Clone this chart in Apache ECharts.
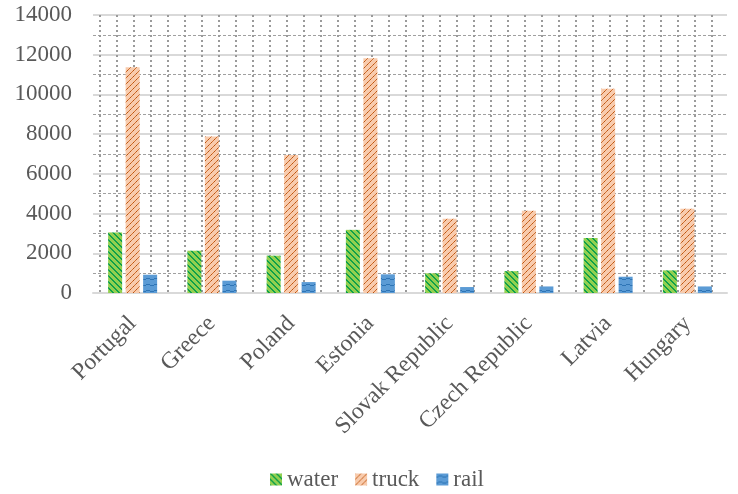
<!DOCTYPE html>
<html>
<head>
<meta charset="utf-8">
<script src="https://cdn.jsdelivr.net/npm/echarts@6/dist/echarts.min.js"></script>
<style>
html,body{margin:0;padding:0;background:#fff;}
#chart{width:738px;height:494px;}
</style>
</head>
<body>
<div id="chart"></div>
<script>
// Freight by mode for each country
const countries = ['Portugal', 'Greece', 'Poland', 'Estonia', 'Slovak Republic', 'Czech Republic', 'Latvia', 'Hungary'];
const water = [3050, 2130, 1880, 3180, 990, 1100, 2770, 1140];
const truck = [11370, 7880, 6950, 11820, 3740, 4140, 10280, 4240];
const rail = [920, 620, 550, 940, 300, 330, 820, 330];
const yTicks = [0, 2000, 4000, 6000, 8000, 10000, 12000, 14000];

const FONT = '"Liberation Serif", "Times New Roman", serif';
const TEXT = '#595959';

// Hatched fills built on small canvases
function makePattern(kind) {
  const c = document.createElement('canvas');
  const ctx = c.getContext('2d');
  if (kind === 'water') {
    c.width = 6; c.height = 6;
    ctx.fillStyle = '#92D050'; ctx.fillRect(0, 0, 6, 6);
    ctx.fillStyle = '#10A04A';
    for (let i = 0; i < 6; i++) { ctx.fillRect(i, i, 2, 1); }
    ctx.fillRect(0, 5, 1, 1);
  } else if (kind === 'truck') {
    c.width = 6; c.height = 6;
    ctx.fillStyle = '#F8CBAD'; ctx.fillRect(0, 0, 6, 6);
    ctx.fillStyle = '#D07030';
    for (let i = 0; i < 6; i++) { ctx.fillRect(5 - i, i, 1, 1); }
    ctx.fillStyle = '#B85410';
    ctx.fillRect(4, 1, 1, 1); ctx.fillRect(1, 4, 1, 1);
  } else {
    c.width = 8; c.height = 6;
    ctx.fillStyle = '#5B9BD5'; ctx.fillRect(0, 0, 8, 6);
    ctx.fillStyle = '#2E75B6';
    ctx.fillRect(0, 3, 2, 1); ctx.fillRect(2, 2, 2, 1);
    ctx.fillRect(4, 2, 2, 1); ctx.fillRect(6, 3, 2, 1);
  }
  return { image: c, repeat: 'repeat' };
}

const chart = echarts.init(document.getElementById('chart'), null, { renderer: 'canvas' });

const barBase = { type: 'bar', barWidth: 14, barGap: '25%', xAxisIndex: 0, yAxisIndex: 0 };

chart.setOption({
  animation: false,
  backgroundColor: '#fff',
  grid: [
    { left: 93, right: 11, top: 15, bottom: 201 },
    { left: 100, right: 26, top: 15, bottom: 201 }
  ],
  legend: {
    top: 463,
    left: 265,
    itemWidth: 12,
    itemHeight: 12,
    itemGap: 17,
    icon: 'rect',
    textStyle: { fontFamily: FONT, fontSize: 23, color: TEXT, padding: [0, 0, 0, 0] },
    data: ['water', 'truck', 'rail']
  },
  xAxis: [
    {
      type: 'category',
      gridIndex: 0,
      data: countries,
      axisLine: { show: true, lineStyle: { color: '#D9D9D9', width: 2 } },
      axisTick: { show: false },
      splitLine: { show: false },
      axisLabel: {
        rotate: 45,
        interval: 0,
        margin: 27,
        fontFamily: FONT,
        fontSize: 23.5,
        color: TEXT
      }
    },
    {
      // dotted vertical guides
      type: 'value',
      gridIndex: 1,
      min: 0,
      max: 36,
      interval: 1,
      axisLine: { show: false },
      axisTick: { show: false },
      axisLabel: { show: false },
      splitLine: { show: true, lineStyle: { color: '#9A9A9A', width: 2, type: [2, 3] } }
    }
  ],
  yAxis: [
    {
      type: 'value',
      gridIndex: 0,
      min: yTicks[0],
      max: yTicks[yTicks.length - 1],
      interval: 2000,
      axisLine: { show: false },
      axisTick: { show: false },
      axisLabel: {
        margin: 21,
        fontFamily: FONT,
        fontSize: 23,
        color: TEXT,
        formatter: v => String(v)
      },
      splitLine: { show: true, lineStyle: { color: '#D9D9D9', width: 2 } },
      minorTick: { show: false, splitNumber: 2 },
      minorSplitLine: { show: true, lineStyle: { color: '#A0A0A0', width: 1, type: [3, 2] } }
    },
    {
      type: 'value',
      gridIndex: 1,
      min: 0,
      max: 14,
      show: false,
      splitLine: { show: false }
    }
  ],
  series: [
    { ...barBase, name: 'water', data: water, itemStyle: { color: makePattern('water') }, z: 3 },
    { ...barBase, name: 'truck', data: truck, itemStyle: { color: makePattern('truck') }, z: 3 },
    { ...barBase, name: 'rail', data: rail, itemStyle: { color: makePattern('rail') }, z: 3 }
  ]
});
</script>
</body>
</html>
